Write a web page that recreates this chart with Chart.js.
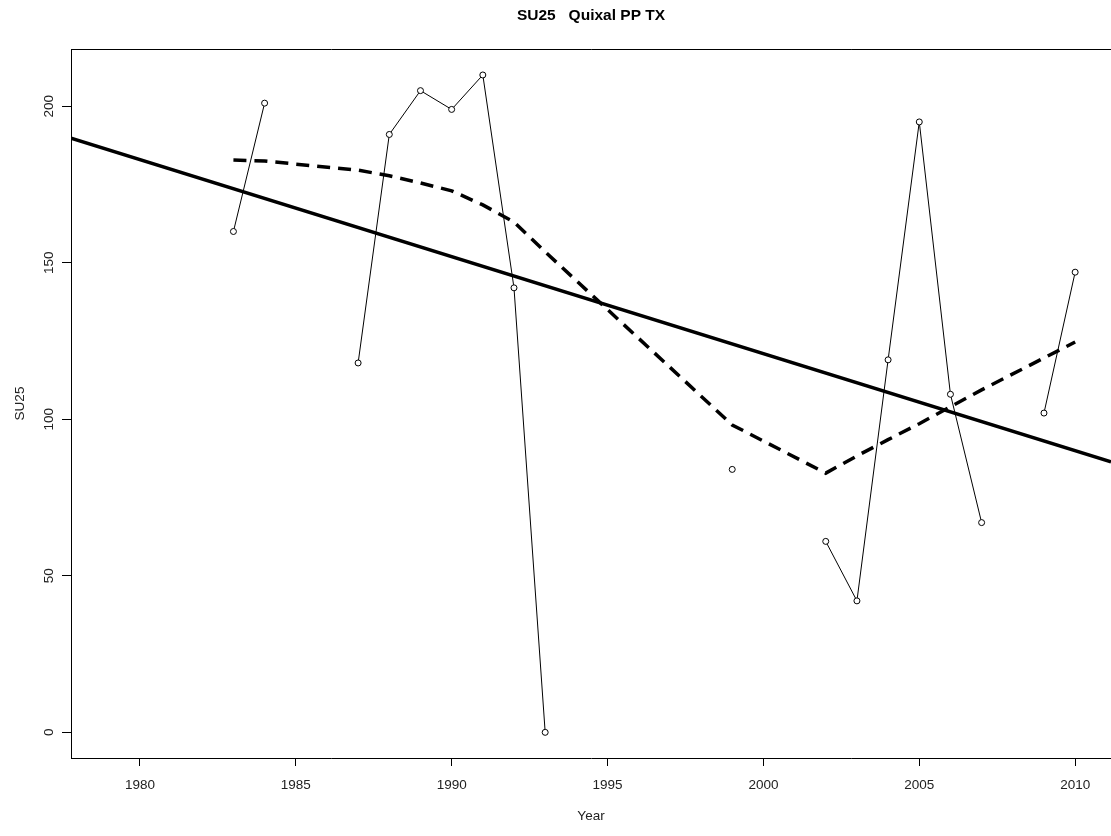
<!DOCTYPE html>
<html>
<head>
<meta charset="utf-8">
<script src="https://cdn.jsdelivr.net/npm/chart.js@4"></script>
<style>
html,body{margin:0;padding:0;background:#fff;}
#wrap{width:1111px;height:836px;position:relative;}
</style>
</head>
<body>
<div id="wrap"><canvas id="c" width="1111" height="836"></canvas></div>
<script>
// ---- data ----
const chartTitle = 'SU25   Quixal PP TX';
const xTitle = 'Year';
const yTitle = 'SU25';
const years = [1983,1984,1985,1986,1987,1988,1989,1990,1991,1992,1993,1994,1995,1996,1997,1998,1999,2000,2001,2002,2003,2004,2005,2006,2007,2008,2009,2010];
const su25  = [160,201,null,null,118,191,205,199,210,142,0,null,null,null,null,null,84,null,null,61,42,119,195,108,67,null,102,147];
const lowessYears = [1983,1984,1987,1988,1989,1990,1991,1992,1993,1999,2002,2003,2004,2005,2006,2007,2009,2010];
const lowessVals  = [182.8,182.5,179.6,177.8,175.5,173,168.5,163,153.5,98.2,82.8,88.3,93.5,98.6,104,109.4,119.6,124.7];
const trendYears = [1977.79, 2011.15];
const trendVals  = [189.8, 86.4];
const xTicks = [1980,1985,1990,1995,2000,2005,2010];
const yTicks = [0,50,100,150,200];
const xRange = [1977.79, 2011.15];
const yRange = [-8.2, 218.3];

const pts = (xs, ys) => xs.map((x,i)=>({x:x, y:ys[i]}));

const FONT = '"Liberation Sans", Arial, sans-serif';

const decor = {
  id:'decor',
  beforeDraw(chart){
    const ctx = chart.ctx;
    ctx.save(); ctx.fillStyle='#fff'; ctx.fillRect(0,0,chart.width,chart.height); ctx.restore();
  },
  afterDraw(chart){
    const ctx = chart.ctx, a = chart.chartArea, ys = chart.scales.y;
    ctx.save();
    // box
    ctx.strokeStyle='#000'; ctx.lineWidth=1;
    ctx.beginPath();
    ctx.moveTo(a.left+0.5, a.bottom+0.5);
    ctx.lineTo(a.left+0.5, a.top+0.5);
    ctx.lineTo(a.right+2, a.top+0.5);
    ctx.stroke();
    // y tick labels rotated
    ctx.fillStyle='#222';
    ctx.font='13.5px '+FONT;
    ctx.textAlign='center'; ctx.textBaseline='middle';
    yTicks.forEach(v=>{
      const y = ys.getPixelForValue(v);
      ctx.save(); ctx.translate(49, y); ctx.rotate(-Math.PI/2);
      ctx.fillText(String(v), 0, 0); ctx.restore();
    });
    // y title
    ctx.save(); ctx.translate(20, (a.top+a.bottom)/2); ctx.rotate(-Math.PI/2);
    ctx.fillText(yTitle, 0, 0); ctx.restore();
    // x title
    ctx.fillText(xTitle, (a.left+a.right)/2, 816);
    // main title
    ctx.fillStyle='#000';
    ctx.font='bold 15.5px '+FONT;
    ctx.fillText(chartTitle, (a.left+a.right)/2, 16);
    ctx.restore();
  }
};

new Chart(document.getElementById('c'), {
  type:'line',
  data:{
    datasets:[
      {
        label:'SU25',
        data: pts(years, su25),
        borderColor:'#000', borderWidth:1,
        pointRadius:3, pointBorderWidth:1,
        pointBackgroundColor:'#fff', pointBorderColor:'#000',
        spanGaps:false, tension:0, order:3
      },
      {
        label:'trend',
        data: pts(trendYears, trendVals),
        borderColor:'#000', borderWidth:3.5,
        pointRadius:0, tension:0, order:2
      },
      {
        label:'lowess',
        data: pts(lowessYears, lowessVals),
        borderColor:'#000', borderWidth:3.5, borderDash:[13,8],
        pointRadius:0, tension:0, order:1
      }
    ]
  },
  options:{
    responsive:false, animation:false,
    layout:{autoPadding:false, padding:{top:49,left:0,right:0,bottom:0}},
    plugins:{legend:{display:false}, tooltip:{enabled:false}, title:{display:false}},
    scales:{
      x:{
        type:'linear', min:xRange[0], max:xRange[1],
        afterBuildTicks(s){ s.ticks = xTicks.map(v=>({value:v})); },
        afterFit(s){ s.height = 836-49-709; s.paddingRight = 0; s.paddingLeft = 0; },
        grid:{drawOnChartArea:false, color:'#000', tickLength:8, tickWidth:1},
        border:{display:true, color:'#000', width:1},
        ticks:{color:'#222', font:{size:13.5, family:FONT}, padding:11, maxRotation:0, autoSkip:false,
               callback:v=>String(v)}
      },
      y:{
        type:'linear', min:yRange[0], max:yRange[1],
        afterBuildTicks(s){ s.ticks = yTicks.map(v=>({value:v})); },
        afterFit(s){ s.width = 71; s.paddingTop = 0; s.paddingBottom = 0; },
        grid:{drawOnChartArea:false, color:'#000', tickLength:9, tickWidth:1},
        border:{display:true, color:'#000', width:1},
        ticks:{display:false}
      }
    }
  },
  plugins:[decor]
});
</script>
</body>
</html>
